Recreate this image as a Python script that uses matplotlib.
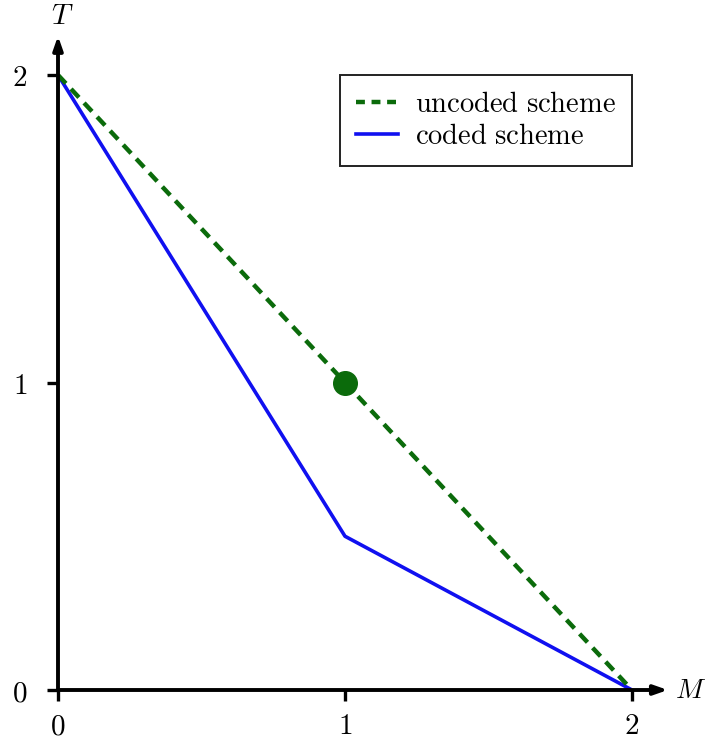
import matplotlib
matplotlib.use("Agg")
import matplotlib.pyplot as plt
from matplotlib.lines import Line2D

plt.rcParams['mathtext.fontset'] = 'cm'
plt.rcParams['font.family'] = ['DejaVu Serif']

# Data
uncoded_M = [0, 2]
uncoded_T = [2, 0]
coded_M = [0, 1, 2]
coded_T = [2, 0.5, 0]
point_M = [1]
point_T = [1]
xticks = [0, 1, 2]
yticks = [0, 1, 2]
xticklabels = ['0', '1', '2']
yticklabels = ['0', '1', '2']

W, H = 709, 745
fig = plt.figure(figsize=(W/100, H/100), dpi=100)
ax = fig.add_axes([58/W, (H-690)/H, 574/W, 615/H])
ax.set_xlim(0, 2)
ax.set_ylim(0, 2)
for s in ax.spines.values():
    s.set_visible(False)

green = '#0b6b0b'
blue = '#1010f0'

ax.plot(coded_M, coded_T, color=blue, lw=2.6, clip_on=False, zorder=3,
        solid_capstyle='butt')
ax.plot(uncoded_M, uncoded_T, color=green, lw=3.2, dashes=(2.6, 1.7),
        clip_on=False, zorder=4)
ax.plot(point_M, point_T, 'o', color=green, ms=17, clip_on=False, zorder=5)

# axes with arrows
astyle = '-|>,head_length=0.8,head_width=0.28'
ax.annotate('', xy=(2.125, 0), xytext=(0, 0), xycoords='data',
            arrowprops=dict(arrowstyle=astyle,
                            lw=2.8, color='black', shrinkA=0, shrinkB=0),
            annotation_clip=False, zorder=6)
ax.annotate('', xy=(0, 2.127), xytext=(0, 0), xycoords='data',
            arrowprops=dict(arrowstyle=astyle,
                            lw=2.8, color='black', shrinkA=0, shrinkB=0),
            annotation_clip=False, zorder=6)

ax.set_xticks(xticks)
ax.set_yticks(yticks)
ax.set_xticklabels(['$\\mathrm{%s}$' % t for t in xticklabels])
ax.set_yticklabels(['$\\mathrm{%s}$' % t for t in yticklabels])
ax.tick_params(axis='both', length=8, width=2.4, direction='out',
               labelsize=21, color='black')
ax.tick_params(axis='x', pad=8)
ax.tick_params(axis='y', pad=14)

fig.text(62/W, 1 - 16/H, '$T$', fontsize=21, ha='center', va='center')
fig.text(706/W, 1 - 690/H, '$M$', fontsize=20, ha='right', va='center')

handles = [Line2D([], [], color=green, lw=3.2, dashes=(2.0, 1.5)),
           Line2D([], [], color=blue, lw=2.6)]
leg = ax.legend(handles,
                ['$\\mathrm{uncoded\\ scheme}$', '$\\mathrm{coded\\ scheme}$'],
                loc='upper right', bbox_to_anchor=(1.0, 1.0),
                fontsize=20.5, frameon=True, fancybox=False, framealpha=1,
                edgecolor='#222222', handlelength=1.5, handletextpad=0.6,
                borderpad=0.55, labelspacing=0.2, borderaxespad=0)
leg.get_frame().set_linewidth(1.4)

fig.savefig('out.png', dpi=100)
